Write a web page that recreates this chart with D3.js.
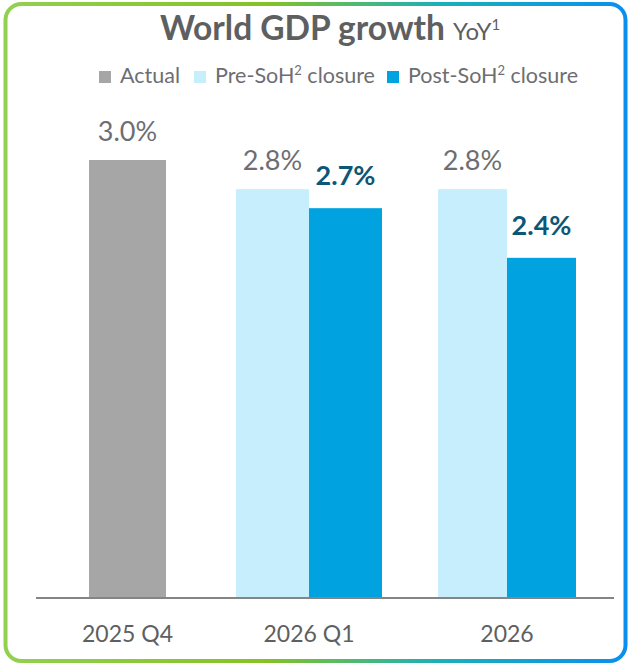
<!DOCTYPE html>
<html>
<head>
<meta charset="utf-8">
<script src="https://cdn.jsdelivr.net/npm/d3@7"></script>
<style>
  html, body { margin: 0; padding: 0; background: #fff; }
  svg { display: block; font-family: Lato, "Open Sans", sans-serif; }
</style>
</head>
<body>
<div id="chart"></div>
<script>
// values
const categories = ['2025 Q4', '2026 Q1', '2026'];
const actual = [3.0, null, null];
const preSoH = [null, 2.8, 2.8];
const postSoH = [null, 2.67, 2.33];
const actualLabels = ['3.0%', null, null];
const preLabels = [null, '2.8%', '2.8%'];
const postLabels = [null, '2.7%', '2.4%'];

const W = 628, H = 667;
const colors = {Actual: '#a6a6a6', 'Pre-SoH': '#c6eefd', 'Post-SoH': '#00a2e0'};

const svg = d3.select('#chart').append('svg')
  .attr('width', W)
  .attr('height', H);

// gradient border
const defs = svg.append('defs');
const grad = defs.append('linearGradient')
  .attr('id', 'frame')
  .attr('x1', '0%').attr('x2', '100%')
  .attr('y1', '0%').attr('y2', '0%');
grad.append('stop').attr('offset', '0%').attr('stop-color', '#92d050');
grad.append('stop').attr('offset', '42%').attr('stop-color', '#84c225');
grad.append('stop').attr('offset', '70%').attr('stop-color', '#1bb0b8');
grad.append('stop').attr('offset', '100%').attr('stop-color', '#0a8ff0');

svg.append('rect')
  .attr('x', 5.5).attr('y', 4)
  .attr('width', 620).attr('height', 657)
  .attr('rx', 16).attr('ry', 16)
  .attr('fill', 'none')
  .attr('stroke', 'url(#frame)')
  .attr('stroke-width', 4);

// title
const title = svg.append('text')
  .attr('x', 330).attr('y', 40)
  .attr('text-anchor', 'middle')
  .attr('fill', '#5e5f61');
title.append('tspan')
  .attr('font-size', 33.5).attr('font-weight', 700)
  .text('World GDP growth ');
title.append('tspan')
  .attr('font-size', 24)
  .text('YoY');
title.append('tspan')
  .attr('font-size', 15).attr('dy', -10)
  .text('1');

// legend
const legendItems = [
  {name: 'Actual', parts: ['Actual']},
  {name: 'Pre-SoH', parts: ['Pre-SoH', '2', ' closure']},
  {name: 'Post-SoH', parts: ['Post-SoH', '2', ' closure']}
];
const legendX = [99, 194, 387];
const legend = svg.append('g').attr('class', 'legend');
legendItems.forEach((d, i) => {
  const g = legend.append('g').attr('transform', `translate(${legendX[i]},71)`);
  g.append('rect').attr('width', 12).attr('height', 12).attr('fill', colors[d.name]);
  const t = g.append('text')
    .attr('x', 21).attr('y', 12)
    .attr('font-size', 21.5)
    .attr('fill', '#6d6e71');
  t.append('tspan').text(d.parts[0]);
  if (d.parts.length > 1) {
    t.append('tspan').attr('font-size', 13).attr('dy', -8).text(d.parts[1]);
    t.append('tspan').attr('dy', 8).text(d.parts[2]);
  }
});

// scales
const baseY = 598;
const y = d3.scaleLinear().domain([0, 3]).range([baseY, 160]);
const x = d3.scaleOrdinal().domain(categories).range([127.5, 309, 507]);
const groupW = d3.scaleOrdinal().domain(categories).range([77, 146, 138]);

const rows = categories.map((c, i) => ({
  cat: c,
  bars: [
    {s: 'Actual', v: actual[i], label: actualLabels[i]},
    {s: 'Pre-SoH', v: preSoH[i], label: preLabels[i]},
    {s: 'Post-SoH', v: postSoH[i], label: postLabels[i]}
  ].filter(b => b.v != null)
}));

const groups = svg.selectAll('.grp')
  .data(rows)
  .enter()
  .append('g')
    .attr('class', 'grp')
    .attr('transform', d => `translate(${x(d.cat)},0)`);

groups.each(function(d) {
  const w = groupW(d.cat);
  const inner = d3.scaleBand()
    .domain(d.bars.map(b => b.s))
    .range([-w / 2, w / 2]);
  const g = d3.select(this);
  g.selectAll('rect')
    .data(d.bars)
    .enter()
    .append('rect')
      .attr('x', b => inner(b.s))
      .attr('y', b => y(b.v))
      .attr('width', inner.bandwidth())
      .attr('height', b => baseY - y(b.v))
      .attr('fill', b => colors[b.s]);
  g.selectAll('.vlabel')
    .data(d.bars)
    .enter()
    .append('text')
      .attr('class', 'vlabel')
      .attr('x', b => inner(b.s) + inner.bandwidth() / 2)
      .attr('y', b => y(b.v) - (b.s === 'Post-SoH' ? 23 : 19))
      .attr('text-anchor', 'middle')
      .attr('font-size', 27)
      .attr('font-weight', b => b.s === 'Post-SoH' ? 700 : 400)
      .attr('fill', b => b.s === 'Post-SoH' ? '#0e5676' : '#6d6e71')
      .text(b => b.label);
});

// axis
const axis = svg.append('g')
  .attr('transform', `translate(0,${baseY})`);
axis.append('line')
  .attr('x1', 36).attr('x2', 614)
  .attr('stroke', '#858585').attr('stroke-width', 2);
axis.selectAll('.tick')
  .data(categories)
  .enter()
  .append('text')
    .attr('class', 'tick')
    .attr('x', d => x(d))
    .attr('y', 44)
    .attr('text-anchor', 'middle')
    .attr('font-size', 23)
    .attr('fill', '#5e5f61')
    .text(d => d);
</script>
</body>
</html>
